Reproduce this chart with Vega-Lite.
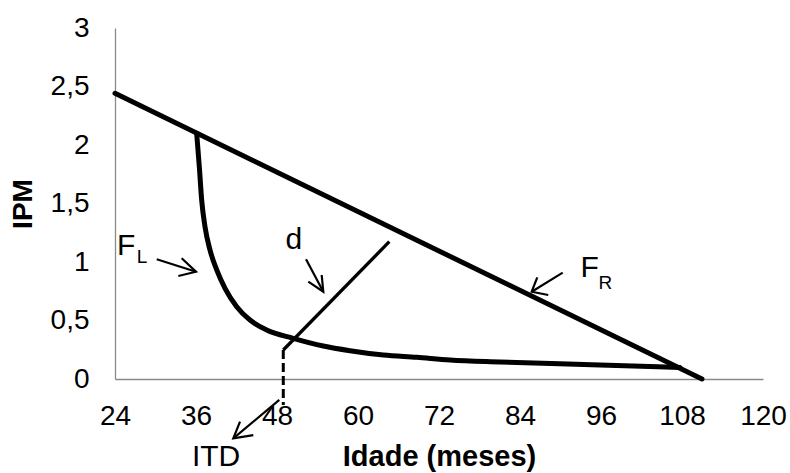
{
  "$schema": "https://vega.github.io/schema/vega-lite/v6.json",
  "width": 648,
  "height": 351,
  "autosize": {"type": "none"},
  "padding": {"left": 115, "top": 28, "right": 27, "bottom": 94},
  "background": "white",
  "config": {
    "view": {"stroke": null},
    "font": "Liberation Sans",
    "text": {"font": "Liberation Sans"}
  },
  "datasets": {
    "fr": [
      {"x": 24, "y": 2.442},
      {"x": 110.96, "y": 0}
    ],
    "fl": [
      {"x": 36.10, "y": 2.100},
      {"x": 36.49, "y": 1.815},
      {"x": 36.84, "y": 1.530},
      {"x": 37.33, "y": 1.302},
      {"x": 38.07, "y": 1.103},
      {"x": 39.07, "y": 0.932},
      {"x": 40.30, "y": 0.775},
      {"x": 42.03, "y": 0.618},
      {"x": 44.00, "y": 0.504},
      {"x": 46.47, "y": 0.419},
      {"x": 50.41, "y": 0.348},
      {"x": 54.86, "y": 0.282},
      {"x": 58.81, "y": 0.242},
      {"x": 63.75, "y": 0.205},
      {"x": 68.70, "y": 0.185},
      {"x": 73.63, "y": 0.162},
      {"x": 81.04, "y": 0.145},
      {"x": 95.85, "y": 0.120},
      {"x": 107.70, "y": 0.098}
    ],
    "d": [
      {"x": 48.93, "y": 0.248},
      {"x": 64.64, "y": 1.174}
    ],
    "itd": [
      {"x": 48.93, "y": 0.248, "o": 0},
      {"x": 48.93, "y": -0.222, "o": 1}
    ],
    "arrows": [
      {"seg": "fl_s", "o": 0, "x": 30.18, "y": 1.023},
      {"seg": "fl_s", "o": 1, "x": 36.0, "y": 0.917},
      {"seg": "fl_h", "o": 0, "x": 33.88, "y": 1.032},
      {"seg": "fl_h", "o": 1, "x": 36.0, "y": 0.917},
      {"seg": "fl_h", "o": 2, "x": 33.38, "y": 0.880},
      {"seg": "d_s", "o": 0, "x": 52.30, "y": 1.023},
      {"seg": "d_s", "o": 1, "x": 54.86, "y": 0.746},
      {"seg": "d_h", "o": 0, "x": 52.64, "y": 0.832},
      {"seg": "d_h", "o": 1, "x": 54.86, "y": 0.746},
      {"seg": "d_h", "o": 2, "x": 54.62, "y": 0.889},
      {"seg": "fr_s", "o": 0, "x": 90.33, "y": 0.909},
      {"seg": "fr_s", "o": 1, "x": 85.73, "y": 0.746},
      {"seg": "fr_h", "o": 0, "x": 86.56, "y": 0.869},
      {"seg": "fr_h", "o": 1, "x": 85.73, "y": 0.746},
      {"seg": "fr_h", "o": 2, "x": 88.19, "y": 0.718},
      {"seg": "itd_s", "o": 0, "x": 48.34, "y": -0.179},
      {"seg": "itd_s", "o": 1, "x": 41.53, "y": -0.507},
      {"seg": "itd_h", "o": 0, "x": 42.52, "y": -0.365},
      {"seg": "itd_h", "o": 1, "x": 41.53, "y": -0.507},
      {"seg": "itd_h", "o": 2, "x": 44.49, "y": -0.479}
    ],
    "bigtext": [
      {"x": 24.30, "y": 1.060, "t": "F"},
      {"x": 92.95, "y": 0.869, "t": "F"},
      {"x": 49.26, "y": 1.107, "t": "d"},
      {"x": 35.40, "y": -0.744, "t": "ITD"}
    ],
    "subtext": [
      {"x": 27.21, "y": 0.989, "t": "L"},
      {"x": 95.64, "y": 0.767, "t": "R"}
    ]
  },
  "encoding": {
    "x": {
      "field": "x",
      "type": "quantitative",
      "scale": {"domain": [24, 120], "nice": false, "zero": false},
      "axis": {
        "values": [24, 36, 48, 60, 72, 84, 96, 108, 120],
        "grid": false,
        "ticks": false,
        "tickSize": 0,
        "domainColor": "#8a8a8a",
        "domainWidth": 1.3,
        "labelFont": "Liberation Sans",
        "labelFontSize": 28,
        "labelColor": "black",
        "labelPadding": 23,
        "labelFlush": false,
        "labelOverlap": false,
        "title": "Idade (meses)",
        "titleFont": "Liberation Sans",
        "titleFontSize": 29,
        "titleFontWeight": "bold",
        "titleColor": "black",
        "titleX": 324,
        "titleY": 86,
        "titleAlign": "center",
        "titleBaseline": "alphabetic"
      }
    },
    "y": {
      "field": "y",
      "type": "quantitative",
      "scale": {"domain": [0, 3], "nice": false, "zero": false},
      "axis": {
        "values": [0, 0.5, 1, 1.5, 2, 2.5, 3],
        "labelExpr": "replace(format(datum.value, '~g'), '.', ',')",
        "grid": false,
        "ticks": false,
        "tickSize": 0,
        "domainColor": "#8a8a8a",
        "domainWidth": 1.3,
        "labelFont": "Liberation Sans",
        "labelFontSize": 28,
        "labelColor": "black",
        "labelPadding": 26,
        "labelFlush": false,
        "labelOverlap": false,
        "title": "IPM",
        "titleFont": "Liberation Sans",
        "titleFontSize": 28,
        "titleFontWeight": "bold",
        "titleColor": "black",
        "titleX": -84,
        "titleY": 175.5,
        "titleAngle": -90,
        "titleAlign": "center",
        "titleBaseline": "alphabetic"
      }
    }
  },
  "layer": [
    {
      "data": {"name": "fr"},
      "mark": {"type": "line", "color": "black", "strokeWidth": 5, "strokeCap": "round", "clip": false}
    },
    {
      "data": {"name": "fl"},
      "mark": {"type": "line", "color": "black", "strokeWidth": 5, "interpolate": "monotone", "strokeCap": "round", "clip": false}
    },
    {
      "data": {"name": "d"},
      "mark": {"type": "line", "color": "black", "strokeWidth": 3.3, "clip": false}
    },
    {
      "data": {"name": "itd"},
      "mark": {"type": "line", "color": "black", "strokeWidth": 3, "strokeDash": [9, 4], "clip": false},
      "encoding": {"order": {"field": "o", "type": "quantitative"}}
    },
    {
      "data": {"name": "arrows"},
      "mark": {"type": "line", "color": "black", "strokeWidth": 2.2, "strokeJoin": "miter", "clip": false},
      "encoding": {
        "detail": {"field": "seg", "type": "nominal"},
        "order": {"field": "o", "type": "quantitative"}
      }
    },
    {
      "data": {"name": "bigtext"},
      "mark": {"type": "text", "align": "left", "baseline": "alphabetic", "fontSize": 30, "font": "Liberation Sans", "color": "black", "clip": false},
      "encoding": {"text": {"field": "t", "type": "nominal"}}
    },
    {
      "data": {"name": "subtext"},
      "mark": {"type": "text", "align": "left", "baseline": "alphabetic", "fontSize": 19, "font": "Liberation Sans", "color": "black", "clip": false},
      "encoding": {"text": {"field": "t", "type": "nominal"}}
    }
  ]
}
